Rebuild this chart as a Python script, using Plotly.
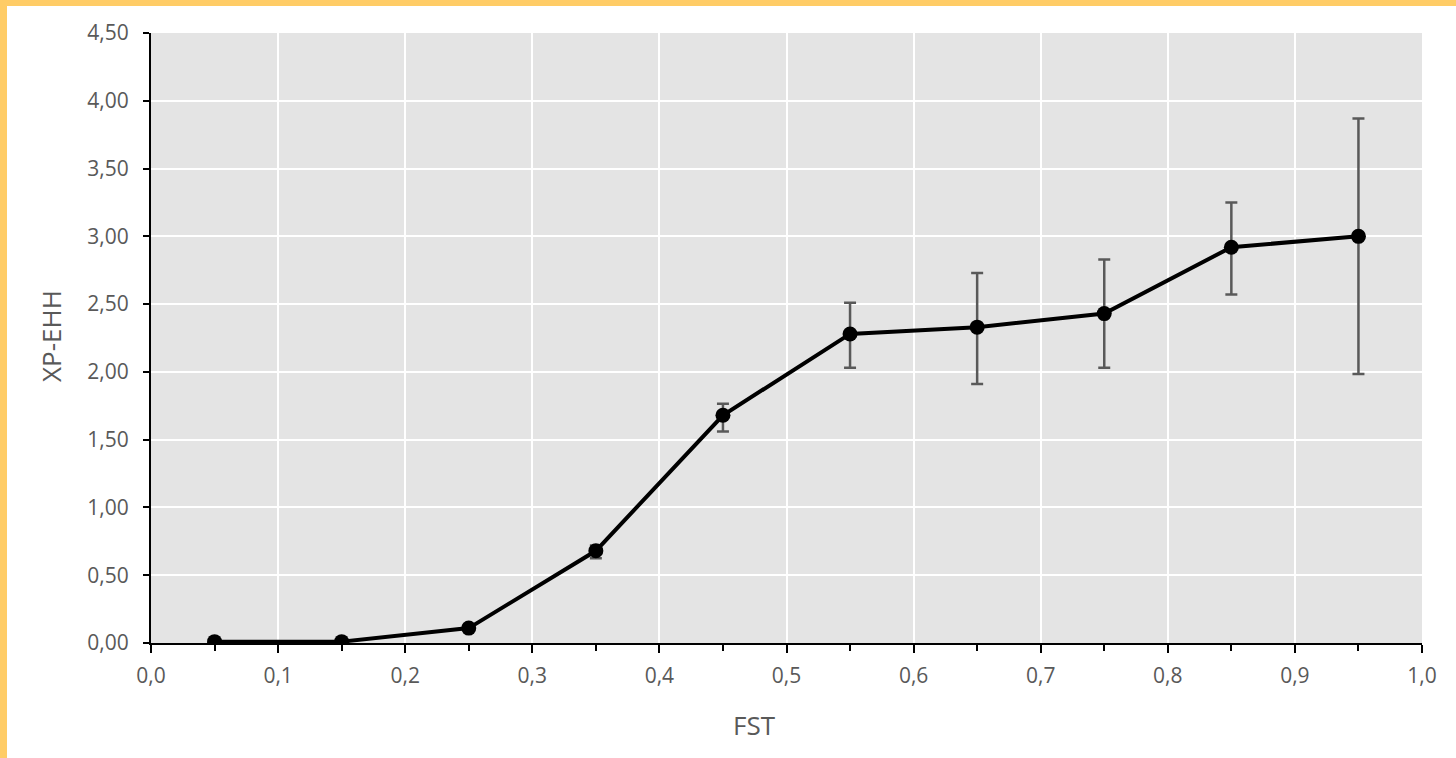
import plotly.graph_objects as go

# FST bin centres and mean XP-EHH per bin
fst = [0.05, 0.15, 0.25, 0.35, 0.45, 0.55, 0.65, 0.75, 0.85, 0.95]
xpehh = [0.01, 0.01, 0.11, 0.68, 1.68, 2.28, 2.33, 2.43, 2.92, 3.00]
# asymmetric error bar extents (upper and lower)
err_plus = [0.0, 0.0, 0.0, 0.04, 0.085, 0.23, 0.40, 0.40, 0.33, 0.87]
err_minus = [0.0, 0.0, 0.0, 0.055, 0.12, 0.25, 0.42, 0.40, 0.35, 1.015]

x_ticks = [0.0, 0.1, 0.2, 0.3, 0.4, 0.5, 0.6, 0.7, 0.8, 0.9, 1.0]
y_ticks = [0.0, 0.5, 1.0, 1.5, 2.0, 2.5, 3.0, 3.5, 4.0, 4.5]

W, H = 1456, 758
L, R, T, B = 151, 34, 33, 115
pw, ph = W - L - R, H - T - B

def px_x(p):
    return (p - L) / pw

def px_y(p):
    return (H - B - p) / ph

FONT = "Open Sans"
GREY = "#595959"

fig = go.Figure()

# error bars drawn underneath the line
fig.add_trace(go.Scatter(
    x=fst, y=xpehh, mode="markers",
    marker=dict(color="rgba(0,0,0,0)", size=1),
    error_y=dict(type="data", symmetric=False, array=err_plus, arrayminus=err_minus,
                 color=GREY, thickness=2.5, width=6),
    hoverinfo="skip", showlegend=False,
))

fig.add_trace(go.Scatter(
    x=fst, y=xpehh, mode="lines+markers",
    line=dict(color="#000000", width=4),
    marker=dict(color="#000000", size=15),
    showlegend=False,
))

axis_common = dict(
    showline=True, linecolor="#000000", linewidth=2, mirror=False,
    showgrid=True, gridcolor="#ffffff", gridwidth=2, zeroline=False,
    ticks="outside", tickcolor="#000000", tickwidth=2,
    tickfont=dict(family=FONT, size=21, color=GREY),
)

fig.update_layout(
    width=W, height=H,
    margin=dict(l=L, r=R, t=T, b=B),
    paper_bgcolor="#ffffff", plot_bgcolor="#e4e4e4",
    separators=",.",
    xaxis=dict(range=[0, 1.0], tickvals=x_ticks, tickformat=".1f", ticklen=8,
               ticklabelstandoff=5,
               minor=dict(dtick=0.05, tick0=0, ticks="outside", ticklen=6,
                          tickcolor="#000000", tickwidth=2, showgrid=False),
               **axis_common),
    yaxis=dict(range=[0, 4.5], tickvals=y_ticks, tickformat=".2f", ticklen=6,
               ticklabelstandoff=10,
               **axis_common),
    annotations=[
        dict(text="FST", xref="paper", yref="paper", x=px_x(754), y=px_y(725),
             xanchor="center", yanchor="middle", showarrow=False,
             font=dict(family=FONT, size=26, color=GREY)),
        dict(text="XP-EHH", xref="paper", yref="paper", x=px_x(51), y=px_y(336),
             xanchor="center", yanchor="middle", showarrow=False, textangle=-90,
             font=dict(family=FONT, size=26, color=GREY)),
    ],
    shapes=[
        dict(type="rect", xref="paper", yref="paper",
             x0=px_x(0), x1=px_x(W), y0=px_y(6), y1=px_y(0),
             fillcolor="#FFCC66", line=dict(width=0), layer="above"),
        dict(type="rect", xref="paper", yref="paper",
             x0=px_x(0), x1=px_x(7), y0=px_y(H), y1=px_y(0),
             fillcolor="#FFCC66", line=dict(width=0), layer="above"),
    ],
)

fig.write_html("out.html")
